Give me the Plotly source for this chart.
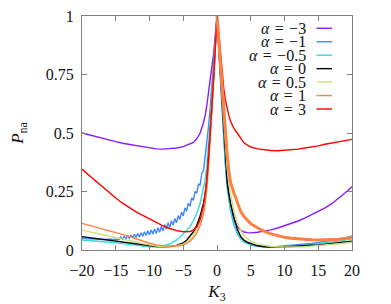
import plotly.graph_objects as go

# Common K3 grid (shared by most series)
K = [-20, -19, -18, -17, -16, -15, -14, -13, -12, -11, -10, -9, -8, -7, -6, -5,
     -4.5, -4, -3.5, -3, -2.5, -2, -1.75, -1.5, -1.25, -1, -0.75, -0.5, -0.25, 0,
     0.25, 0.5, 0.75, 1, 1.25, 1.5, 1.75, 2, 2.5, 3, 3.5, 4, 4.5, 5,
     6, 7, 8, 9, 10, 11, 12, 13, 14, 15, 16, 17, 18, 19, 20]

p_am3 = [0.500, 0.492, 0.484, 0.477, 0.469, 0.463, 0.456, 0.451, 0.445, 0.440, 0.436, 0.432, 0.431, 0.432, 0.436, 0.442,
         0.447, 0.452, 0.460, 0.475, 0.500, 0.545, 0.575, 0.620, 0.670, 0.720, 0.770, 0.840, 0.920, 1.000,
         0.880, 0.740, 0.600, 0.480, 0.380, 0.300, 0.240, 0.190, 0.130, 0.100, 0.085, 0.077, 0.074, 0.073,
         0.076, 0.080, 0.086, 0.094, 0.103, 0.113, 0.124, 0.136, 0.150, 0.163, 0.180, 0.198, 0.220, 0.245, 0.270]

# alpha = -1 has its own, denser grid on the left (zig-zag data)
K_am1 = [-20, -19, -18, -17, -16, -15, -14.5, -14.25, -14, -13.75, -13.5, -13.25, -13, -12.75, -12.5, -12.25,
         -12, -11.75, -11.5, -11.25, -11, -10.75, -10.5, -10.25, -10, -9.75, -9.5, -9.25, -9, -8.75, -8.5, -8.25,
         -8, -7.75, -7.5, -7.25, -7, -6.75, -6.5, -6.25, -6, -5.75, -5.5, -5.25, -5, -4.75, -4.5, -4.25,
         -4, -3.75, -3.5, -3.25, -3, -2.75, -2.5, -2.25, -2, -1.75, -1.5, -1.25, -1, -0.75, -0.5, -0.25, 0,
         0.25, 0.5, 0.75, 1, 1.25, 1.5, 1.75, 2, 2.5, 3, 3.5, 4, 4.5, 5,
         6, 7, 8, 9, 10, 11, 12, 13, 14, 15, 16, 17, 18, 19, 20]
p_am1 = [0.050, 0.048, 0.046, 0.045, 0.046, 0.047, 0.045, 0.056, 0.046, 0.058, 0.048, 0.061, 0.050, 0.064, 0.052, 0.067,
         0.054, 0.070, 0.056, 0.074, 0.059, 0.078, 0.062, 0.082, 0.065, 0.086, 0.068, 0.090, 0.071, 0.095, 0.076, 0.101,
         0.082, 0.109, 0.089, 0.116, 0.097, 0.125, 0.106, 0.135, 0.116, 0.147, 0.131, 0.162, 0.146, 0.180, 0.166, 0.200,
         0.187, 0.223, 0.212, 0.250, 0.243, 0.281, 0.278, 0.328, 0.340, 0.400, 0.460, 0.530, 0.610, 0.700, 0.790, 0.890, 1.000,
         0.860, 0.720, 0.580, 0.460, 0.360, 0.280, 0.220, 0.170, 0.110, 0.072, 0.050, 0.036, 0.028, 0.022,
         0.016, 0.014, 0.014, 0.015, 0.017, 0.019, 0.022, 0.025, 0.028, 0.032, 0.036, 0.041, 0.046, 0.052, 0.060]

p_am05 = [0.043, 0.041, 0.038, 0.036, 0.033, 0.031, 0.027, 0.023, 0.019, 0.016, 0.014, 0.014, 0.017, 0.026, 0.043, 0.068,
          0.083, 0.100, 0.125, 0.155, 0.200, 0.260, 0.300, 0.360, 0.450, 0.550, 0.650, 0.770, 0.880, 1.000,
          0.870, 0.740, 0.600, 0.470, 0.370, 0.270, 0.220, 0.170, 0.110, 0.070, 0.048, 0.035, 0.027, 0.022,
          0.016, 0.013, 0.012, 0.012, 0.013, 0.015, 0.017, 0.020, 0.023, 0.026, 0.030, 0.034, 0.038, 0.043, 0.048]

p_a0 = [0.057, 0.053, 0.049, 0.045, 0.040, 0.036, 0.032, 0.028, 0.024, 0.020, 0.017, 0.015, 0.014, 0.015, 0.020, 0.030,
        0.042, 0.058, 0.078, 0.105, 0.145, 0.200, 0.240, 0.300, 0.390, 0.500, 0.620, 0.750, 0.870, 1.000,
        0.880, 0.760, 0.630, 0.500, 0.400, 0.290, 0.240, 0.200, 0.140, 0.090, 0.058, 0.042, 0.033, 0.027,
        0.018, 0.014, 0.012, 0.012, 0.013, 0.014, 0.016, 0.018, 0.020, 0.022, 0.025, 0.028, 0.031, 0.034, 0.038]

p_a05 = [0.085, 0.079, 0.073, 0.067, 0.061, 0.055, 0.048, 0.041, 0.034, 0.027, 0.021, 0.017, 0.015, 0.015, 0.018, 0.025,
         0.033, 0.045, 0.062, 0.088, 0.125, 0.180, 0.220, 0.280, 0.370, 0.480, 0.610, 0.740, 0.870, 1.000,
         0.880, 0.770, 0.650, 0.530, 0.430, 0.350, 0.290, 0.240, 0.170, 0.120, 0.085, 0.062, 0.048, 0.038,
         0.026, 0.019, 0.015, 0.013, 0.012, 0.012, 0.013, 0.014, 0.016, 0.018, 0.020, 0.023, 0.026, 0.029, 0.033]

p_a1 = [0.114, 0.106, 0.098, 0.090, 0.083, 0.076, 0.068, 0.058, 0.048, 0.038, 0.029, 0.022, 0.018, 0.016, 0.017, 0.021,
        0.028, 0.038, 0.052, 0.072, 0.105, 0.155, 0.200, 0.260, 0.360, 0.470, 0.600, 0.730, 0.870, 1.000,
        0.900, 0.800, 0.690, 0.580, 0.490, 0.410, 0.340, 0.290, 0.245, 0.200, 0.165, 0.143, 0.125, 0.112,
        0.095, 0.080, 0.069, 0.060, 0.054, 0.050, 0.047, 0.045, 0.044, 0.043, 0.043, 0.044, 0.046, 0.049, 0.053]

p_a3 = [0.345, 0.320, 0.295, 0.270, 0.245, 0.222, 0.200, 0.180, 0.163, 0.148, 0.133, 0.118, 0.103, 0.092, 0.083, 0.078,
        0.077, 0.079, 0.085, 0.098, 0.130, 0.190, 0.240, 0.300, 0.390, 0.490, 0.600, 0.730, 0.860, 1.000,
        0.930, 0.850, 0.760, 0.690, 0.640, 0.600, 0.575, 0.550, 0.520, 0.500, 0.480, 0.458, 0.448, 0.440,
        0.432, 0.428, 0.425, 0.424, 0.426, 0.428, 0.431, 0.436, 0.440, 0.445, 0.452, 0.457, 0.462, 0.468, 0.473]

SP = "\u2004"
labels = [f"<i>α</i>{SP}={SP}−3", f"<i>α</i>{SP}={SP}−1", f"<i>α</i>{SP}={SP}−0.5", f"<i>α</i>{SP}={SP}0",
          f"<i>α</i>{SP}={SP}0.5", f"<i>α</i>{SP}={SP}1", f"<i>α</i>{SP}={SP}3"]
colors = ["#8a1cff", "#3f88ff", "#3ad8d8", "#000000", "#d2df7c", "#ff8040", "#ff0000"]

x_tick_vals = [-20, -15, -10, -5, 0, 5, 10, 15, 20]
y_tick_vals = [0, 0.25, 0.5, 0.75, 1]

series = [(K, p_am3), (K_am1, p_am1), (K, p_am05), (K, p_a0), (K, p_a05), (K, p_a1), (K, p_a3)]

fig = go.Figure()
for (xs, ys), name, c in zip(series, labels, colors):
    fig.add_trace(go.Scatter(x=xs, y=ys, mode="lines", name=name, showlegend=False,
                             line=dict(color=c, width=1.4)))

# thicker (noisy-looking) right branch of alpha = 1
i0 = K.index(0)
fig.add_trace(go.Scatter(x=K[i0:], y=p_a1[i0:], mode="lines", showlegend=False,
                         line=dict(color=colors[5], width=3.0)))

font_family = "'Liberation Serif', 'Times New Roman', Times, serif"

# page has an 8px body margin: figure sits at (8, 8) in the window
OFF = 8
W_PLOT, H_PLOT = 270.0, 234.0
PL, PT = 82 - OFF, 16 - OFF
FW, FH = 391 - OFF, 304 - OFF

# Key (legend) in the style of the original: right-aligned label, line sample on the right
key_text_x = (306.5 - 82) / W_PLOT
key_line_x0 = (316.5 - 82) / W_PLOT
key_line_x1 = (332.0 - 82) / W_PLOT
key_y0, key_dy = 28.3, 13.45
for i, (name, c) in enumerate(zip(labels, colors)):
    yp = (250 - (key_y0 + key_dy * i)) / H_PLOT
    fig.add_annotation(x=key_text_x, y=yp, xref="paper", yref="paper", text=name,
                       showarrow=False, xanchor="right", yanchor="middle", borderpad=0,
                       font=dict(family=font_family, size=16, color="#111"))
    fig.add_shape(type="line", xref="paper", yref="paper", x0=key_line_x0, x1=key_line_x1,
                  y0=yp, y1=yp, line=dict(color=c, width=1.4))

axis_common = dict(showline=True, linecolor="#808080", linewidth=1, mirror="ticks",
                   ticks="inside", ticklen=5, tickcolor="#808080", showgrid=False,
                   zeroline=False, automargin=False, ticklabeloverflow="allow",
                   tickfont=dict(family=font_family, size=16, color="#111"))

fig.update_layout(
    width=FW, height=FH,
    margin=dict(l=PL, r=FW - PL - int(W_PLOT), t=PT, b=FH - PT - int(H_PLOT)),
    paper_bgcolor="white", plot_bgcolor="white",
    font=dict(family=font_family, size=16, color="#111"),
    xaxis=dict(range=[-20, 20], tickvals=x_tick_vals, ticklabelstandoff=6,
               title=dict(text="<i>K</i><sub>3</sub>", standoff=8,
                          font=dict(family=font_family, size=17)),
               **axis_common),
    yaxis=dict(range=[0, 1], tickvals=y_tick_vals, ticklabelstandoff=4,
               title=dict(text="<i>P</i><sub>na</sub>", standoff=18,
                          font=dict(family=font_family, size=17)),
               **axis_common),
    showlegend=False,
)

fig.write_html("out.html")
